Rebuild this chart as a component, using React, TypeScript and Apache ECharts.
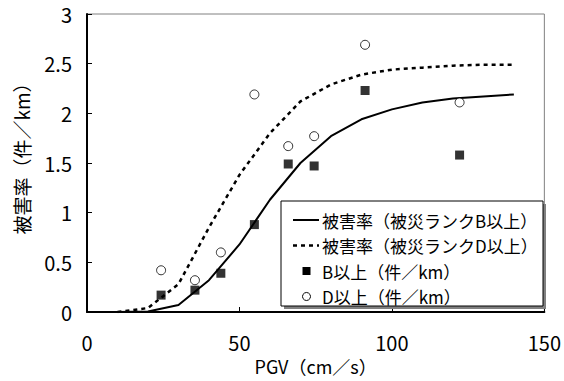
import React, { useEffect, useRef } from "react";
import * as echarts from "echarts";

const pgvPoints = [24.3, 35.4, 43.9, 54.9, 66.0, 74.5, 91.2, 122.2];
const rateB = [0.17, 0.22, 0.39, 0.88, 1.49, 1.47, 2.23, 1.58];
const rateD = [0.42, 0.32, 0.6, 2.19, 1.67, 1.77, 2.69, 2.11];

const curvePgv = [10, 20, 30, 40, 50, 60, 70, 80, 90, 100, 110, 120, 130, 140];
const curveB = [0.0, 0.005, 0.07, 0.32, 0.68, 1.13, 1.5, 1.77, 1.94, 2.04, 2.11, 2.15, 2.17, 2.19];
const curveD = [0.0, 0.04, 0.28, 0.85, 1.38, 1.8, 2.12, 2.29, 2.39, 2.44, 2.46, 2.48, 2.49, 2.49];

const xAxisTitle = "PGV（cm／s）";
const yAxisTitle = "被害率（件／km）";
const legendLabels = [
  "被害率（被災ランクB以上）",
  "被害率（被災ランクD以上）",
  "B以上（件／km）",
  "D以上（件／km）",
];

const FONT = "'Noto Sans CJK JP', 'Noto Sans', sans-serif";

export default function App() {
  const ref = useRef<HTMLDivElement>(null);
  useEffect(() => {
    document.body.style.margin = "0";
    const chart = echarts.init(ref.current!, null, { renderer: "svg" });
    const pair = (xs: number[], ys: number[]) => xs.map((x, i) => [x, ys[i]]);
    const rows = [220, 245.5, 271, 296.5];
    chart.setOption({
      animation: false,
      backgroundColor: "#fff",
      textStyle: { fontFamily: FONT },
      grid: {
        left: 87,
        right: 18,
        top: 14,
        bottom: 69,
        show: true,
        borderColor: "#808080",
        borderWidth: 1,
        backgroundColor: "transparent",
      },
      xAxis: {
        type: "value",
        min: 0,
        max: 150,
        interval: 50,
        name: xAxisTitle,
        nameLocation: "middle",
        nameGap: 44,
        nameTextStyle: { fontSize: 18, color: "#000", fontFamily: FONT },
        axisLine: { show: true, lineStyle: { color: "#000", width: 2 } },
        axisTick: { show: true, inside: true, length: 5, lineStyle: { color: "#000", width: 1 } },
        axisLabel: { fontSize: 20, color: "#000", margin: 20, fontFamily: FONT },
        splitLine: { show: false },
      },
      yAxis: {
        type: "value",
        min: 0,
        max: 3,
        interval: 0.5,
        axisLine: { show: true, lineStyle: { color: "#000", width: 2 } },
        axisTick: { show: true, inside: true, length: 5, lineStyle: { color: "#000", width: 1 } },
        axisLabel: { fontSize: 20, color: "#000", margin: 15, fontFamily: FONT },
        splitLine: { show: false },
      },
      series: [
        {
          name: legendLabels[0],
          type: "line",
          data: pair(curvePgv, curveB),
          showSymbol: false,
          symbol: "none",
          lineStyle: { color: "#000", width: 2 },
          z: 2,
        },
        {
          name: legendLabels[1],
          type: "line",
          data: pair(curvePgv, curveD),
          showSymbol: false,
          symbol: "none",
          lineStyle: { color: "#000", width: 2.5, type: [4, 4] },
          z: 2,
        },
        {
          name: legendLabels[2],
          type: "scatter",
          data: pair(pgvPoints, rateB),
          symbol: "rect",
          symbolSize: 9,
          itemStyle: { color: "#000" },
          z: 3,
        },
        {
          name: legendLabels[3],
          type: "scatter",
          data: pair(pgvPoints, rateD),
          symbol: "circle",
          symbolSize: 9,
          itemStyle: { color: "#fff", borderColor: "#000", borderWidth: 1 },
          z: 3,
        },
      ],
      graphic: [
        {
          type: "text",
          x: 21,
          y: 154,
          rotation: Math.PI / 2,
          style: {
            text: yAxisTitle,
            fill: "#000",
            font: `19px ${FONT}`,
            align: "center",
            verticalAlign: "middle",
          },
        },
        {
          type: "rect",
          z: 10,
          shape: { x: 284, y: 204, width: 262, height: 105 },
          style: { fill: "#808080" },
        },
        {
          type: "rect",
          z: 11,
          shape: { x: 281, y: 201, width: 262, height: 105 },
          style: { fill: "#fff", stroke: "#000", lineWidth: 1 },
        },
        {
          type: "line",
          z: 12,
          shape: { x1: 293, y1: rows[0], x2: 319, y2: rows[0] },
          style: { stroke: "#000", lineWidth: 2 },
        },
        {
          type: "line",
          z: 12,
          shape: { x1: 293, y1: rows[1], x2: 319, y2: rows[1] },
          style: { stroke: "#000", lineWidth: 2.5, lineDash: [4, 4] },
        },
        {
          type: "rect",
          z: 12,
          shape: { x: 302.5, y: rows[2] - 4, width: 8, height: 8 },
          style: { fill: "#000" },
        },
        {
          type: "circle",
          z: 12,
          shape: { cx: 306.5, cy: rows[3], r: 4 },
          style: { fill: "#fff", stroke: "#000", lineWidth: 1 },
        },
        ...legendLabels.map((t, i) => ({
          type: "text",
          z: 12,
          x: 322,
          y: rows[i],
          style: {
            text: t,
            fill: "#000",
            font: `17px ${FONT}`,
            verticalAlign: "middle",
          },
        })),
      ],
    });
    return () => chart.dispose();
  }, []);
  return <div ref={ref} style={{ width: 564, height: 381 }} />;
}
